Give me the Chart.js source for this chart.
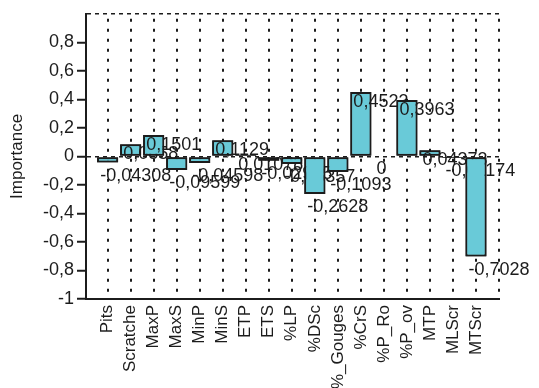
<!DOCTYPE html>
<html>
<head>
<meta charset="utf-8">
<script src="https://cdn.jsdelivr.net/npm/chart.js@4/dist/chart.umd.min.js"></script>
<style>
  html, body { margin: 0; padding: 0; background: #fff; }
  #wrap { width: 539px; height: 388px; }
</style>
</head>
<body>
<div id="wrap"><canvas id="chart" width="539" height="388"></canvas></div>
<script>
// categories and importance values
const categories = ["Pits", "Scratche", "MaxP", "MaxS", "MinP", "MinS", "ETP", "ETS", "%LP",
  "%DSc", "%_Gouges", "%CrS", "%P_Ro", "%P_ov", "MTP", "MLScr", "MTScr"];
const importance = [-0.04308, 0.0858, 0.1501, -0.09599, -0.04598, 0.1129, 0.01078, -0.02975,
  -0.05357, -0.2628, -0.1093, 0.4523, 0, 0.3963, 0.04373, -0.01174, -0.7028];
const yTicks = [-1, -0.8, -0.6, -0.4, -0.2, 0, 0.2, 0.4, 0.6, 0.8, 1];

const ink = "#1c1c1c";
const fmt = v => String(v).replace(".", ",");

// bar i, then its label, then bar i+1 ... so later bars cover earlier labels
const valueLabels = {
  id: "valueLabels",
  afterDatasetsDraw(chart) {
    const ctx = chart.ctx;
    const meta = chart.getDatasetMeta(0);
    ctx.save();
    ctx.font = "18px 'Liberation Sans', Arial, sans-serif";
    ctx.fillStyle = ink;
    ctx.textAlign = "left";
    ctx.textBaseline = "middle";
    meta.data.forEach((bar, i) => {
      bar.draw(ctx);
      const v = importance[i];
      const y = v > 0 ? bar.y + 10 : bar.y + 13;
      ctx.fillText(fmt(v), bar.x - 7.5, y);
    });
    ctx.restore();
  }
};

new Chart(document.getElementById("chart"), {
  type: "bar",
  data: {
    datasets: [{
      data: importance.map((v, i) => ({ x: i, y: v })),
      backgroundColor: "#69cad8",
      borderColor: ink,
      borderWidth: 2,
      borderSkipped: false,
      barPercentage: 0.92,
      categoryPercentage: 1
    }]
  },
  options: {
    responsive: false,
    animation: false,
    layout: { padding: { left: 0, top: 13, right: 40, bottom: 0 } },
    plugins: { legend: { display: false }, tooltip: { enabled: false } },
    scales: {
      x: {
        type: "linear",
        offset: false,
        min: -0.94,
        max: 17,
        afterBuildTicks: s => { s.ticks = categories.map((c, i) => ({ value: i })).concat([{ value: 17 }]); },
        afterFit: s => { s.height = 89; },
        ticks: {
          autoSkip: false,
          minRotation: 90,
          maxRotation: 90,
          padding: 6,
          color: ink,
          font: { family: "'Liberation Sans', Arial, sans-serif", size: 17 },
          callback: v => categories[v] ?? ""
        },
        grid: { offset: false, color: ink, lineWidth: 2, drawTicks: false },
        border: { color: ink, width: 2, dash: [3, 7], dashOffset: 5 }
      },
      y: {
        min: -1,
        max: 1,
        afterBuildTicks: s => { s.ticks = yTicks.map(v => ({ value: v })); },
        afterFit: s => { s.width = 86; },
        title: {
          display: true,
          text: "Importance",
          color: ink,
          padding: { top: 7, bottom: 0 },
          font: { family: "'Liberation Sans', Arial, sans-serif", size: 17 }
        },
        ticks: {
          padding: 3,
          color: ink,
          font: { family: "'Liberation Sans', Arial, sans-serif", size: 18 },
          callback: v => v === 1 ? "" : fmt(Math.round(v * 10) / 10)
        },
        grid: {
          color: c => (Math.abs(c.tick.value) < 1e-9 || c.tick.value === 1) ? ink : "rgba(0,0,0,0)",
          lineWidth: 1.5,
          tickLength: 9,
          tickWidth: 2,
          tickBorderDash: [],
          tickColor: c => c.tick.value === 1 ? "rgba(0,0,0,0)" : ink
        },
        border: { color: ink, width: 2, dash: [4, 4] }
      }
    }
  },
  plugins: [valueLabels]
});
</script>
</body>
</html>
